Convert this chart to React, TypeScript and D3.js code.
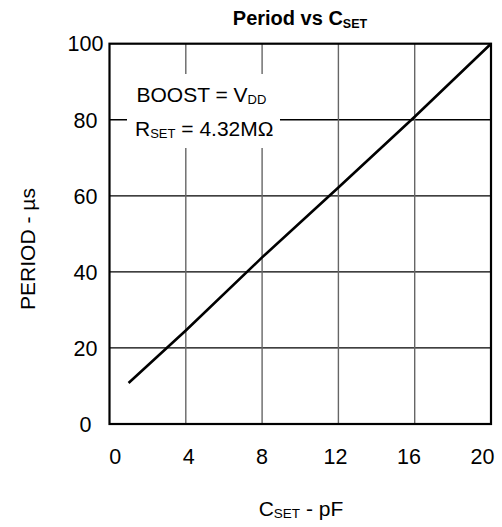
import React from "react";
import * as d3 from "d3";

const capValues = [1, 4, 8, 12, 16, 20];
const periodValues = [10.8, 24.6, 43.8, 62.2, 80.8, 100];
const xTicks = [0, 4, 8, 12, 16, 20];
const yTicks = [0, 20, 40, 60, 80, 100];

const W = 502;
const H = 527;
const FONT = "'Liberation Sans', Arial, sans-serif";

export default function App() {
  const left = 109.5, right = 491, top = 43.7, bottom = 424;
  const x = d3.scaleLinear().domain([0, 20]).range([left, right]);
  const xLabel = d3.scaleLinear().domain([0, 20]).range([115.2, 482.4]);
  const y = d3.scaleLinear().domain([0, 100]).range([bottom, top]);
  const line = d3
    .line<number>()
    .x((_, i) => x(capValues[i]))
    .y((d) => y(d));
  const pts = periodValues;

  return (
    <svg
      width={W}
      height={H}
      style={{ position: "absolute", left: 0, top: 0, background: "#fff" }}
      fontFamily={FONT}
    >
      <rect x={0} y={0} width={W} height={H} fill="#fff" />
      {/* title */}
      <text x={300} y={25} textAnchor="middle" fontSize={20} fontWeight="bold" fill="#000">
        Period vs C
        <tspan fontSize={12.5} dy={2.5}>SET</tspan>
      </text>
      {/* horizontal grid */}
      {yTicks.slice(1, -1).map((t) => (
        <line key={"h" + t} x1={left} x2={right} y1={y(t)} y2={y(t)} stroke="#000" strokeWidth={1.3} />
      ))}
      {/* vertical grid */}
      {xTicks.slice(1, -1).map((t) => (
        <line key={"v" + t} x1={x(t)} x2={x(t)} y1={top} y2={bottom} stroke="#666" strokeWidth={1.4} />
      ))}
      {/* annotation background */}
      <rect x={127} y={74} width={153} height={74} fill="#fff" />
      <text x={136.5} y={101.7} fontSize={21} fill="#000">
        BOOST = V<tspan fontSize={13} dy={1.8}>DD</tspan>
      </text>
      <text x={135} y={136} fontSize={21} fill="#000">
        R<tspan fontSize={13} dy={1.8}>SET</tspan>
        <tspan dy={-1.8}> = 4.32MΩ</tspan>
      </text>
      {/* data line */}
      <path d={line(pts) || ""} fill="none" stroke="#000" strokeWidth={2.6} />
      {/* frame */}
      <rect x={left} y={top} width={right - left} height={bottom - top} fill="none" stroke="#000" strokeWidth={2.2} />
      {/* y ticks */}
      {yTicks.map((t) => (
        <text key={"yl" + t} x={85.5} y={y(t)} dy="0.36em" textAnchor="middle" fontSize={21.5} fill="#000">
          {t}
        </text>
      ))}
      {/* x ticks */}
      {xTicks.map((t) => (
        <text key={"xl" + t} x={xLabel(t)} y={463.5} textAnchor="middle" fontSize={21.5} fill="#000">
          {t}
        </text>
      ))}
      {/* axis titles */}
      <text x={301} y={515.7} textAnchor="middle" fontSize={21} fill="#000">
        C<tspan fontSize={13.5} dy={1.8}>SET</tspan>
        <tspan dy={-1.8}> - pF</tspan>
      </text>
      <text
        transform={`translate(34.5,249) rotate(-90)`}
        textAnchor="middle"
        fontSize={21}
        fill="#000"
      >
        PERIOD - µs
      </text>
    </svg>
  );
}
